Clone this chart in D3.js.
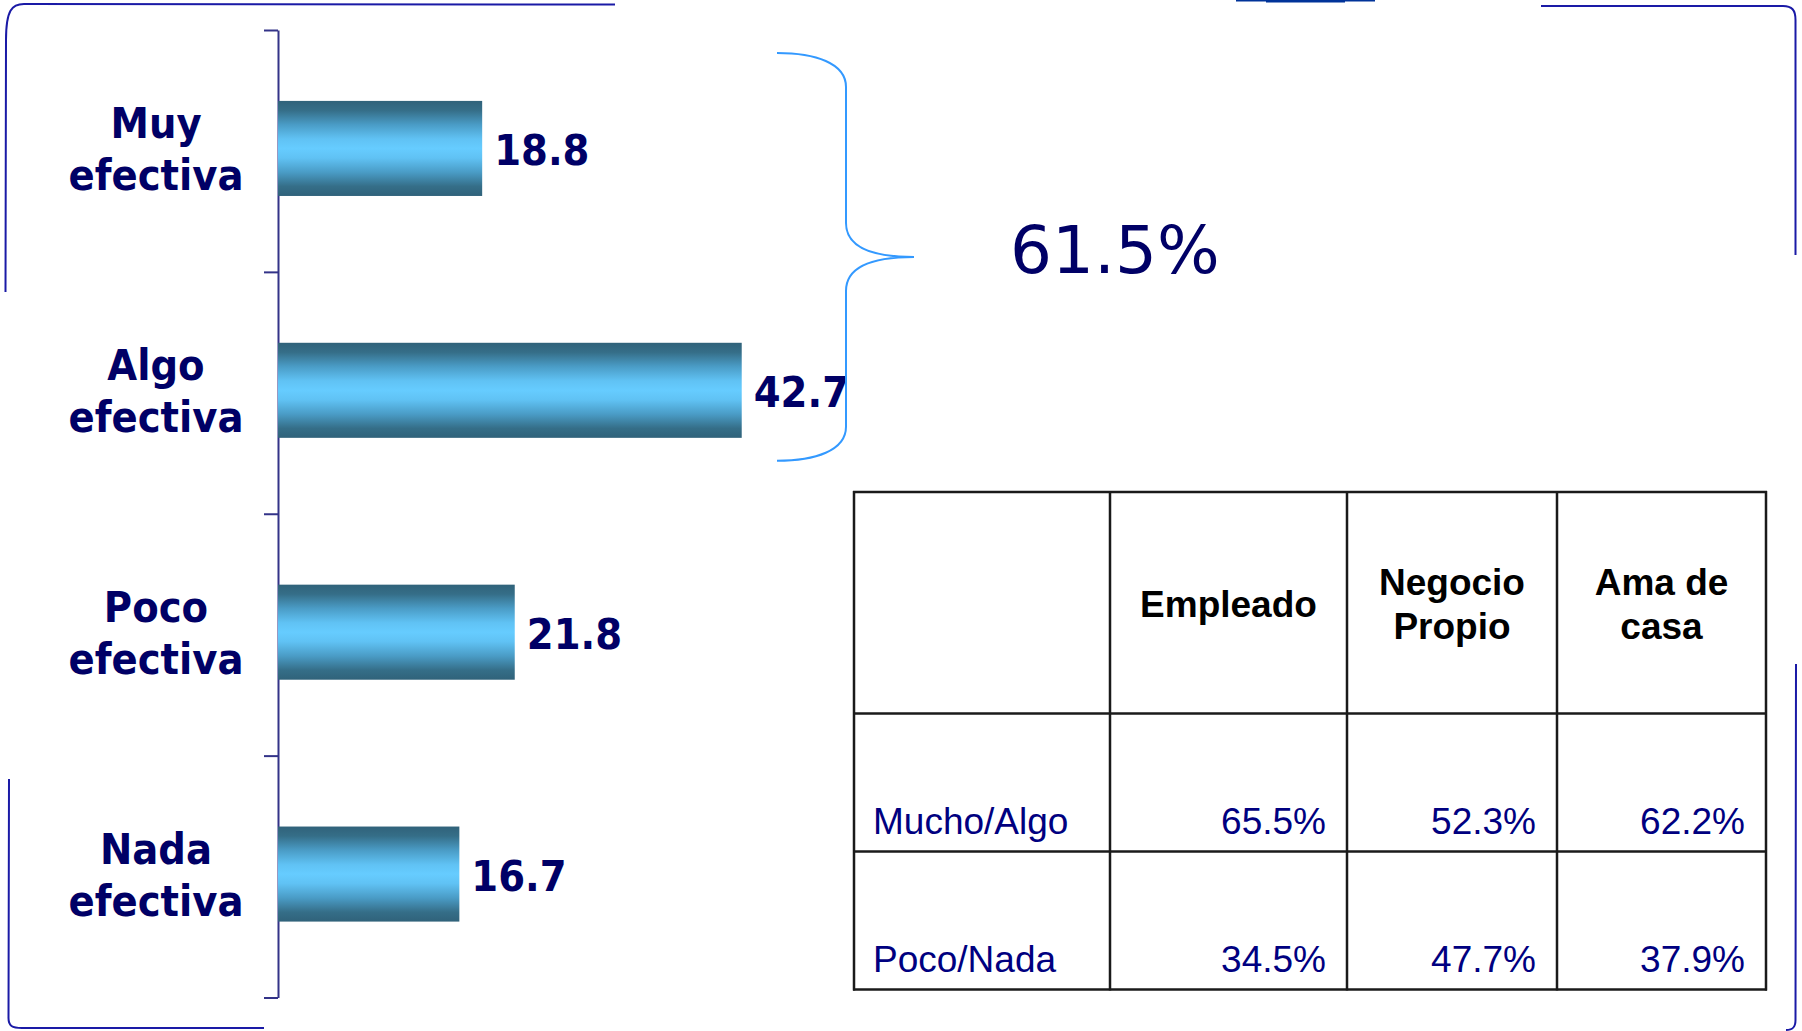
<!DOCTYPE html>
<html>
<head>
<meta charset="utf-8">
<script src="https://cdn.jsdelivr.net/npm/d3@7"></script>
<style>
  body { margin: 0; background: #fff; }
  svg { display: block; }
</style>
</head>
<body>
<svg width="1802" height="1031"></svg>
<script>
'use strict'

// bar chart data
const categories = ['Muy efectiva', 'Algo efectiva', 'Poco efectiva', 'Nada efectiva']
const values = [18.8, 42.7, 21.8, 16.7]
const bracketTotal = '61.5%'

// table data
const tableHeaders = ['Empleado', 'Negocio Propio', 'Ama de casa']
const rowLabels = ['Mucho/Algo', 'Poco/Nada']
const muchoAlgo = [65.5, 52.3, 62.2]
const pocoNada = [34.5, 47.7, 37.9]

const svg = d3.select('body svg')

const navy = '#000066'
const axisColor = '#333388'
const frameColor = '#1a1aa6'

const defs = svg.append('defs')
const grad = defs.append('linearGradient')
  .attr('id', 'barGrad')
  .attr('x1', '0').attr('y1', '0')
  .attr('x2', '0').attr('y2', '1')
const stops = [
  [0, '#30627a'], [0.1, '#356e88'], [0.25, '#4a9cc6'],
  [0.4, '#60c2f4'], [0.5, '#66ccff'], [0.6, '#60c2f4'],
  [0.75, '#4a9cc6'], [0.9, '#356e88'], [1, '#30627a']
]
stops.forEach((s) => {
  grad.append('stop').attr('offset', s[0]).attr('stop-color', s[1])
})

// ---- bar chart ----
const axisX = 278
const yTop = 30
const yBottom = 997.5

const xScale = d3.scaleLinear().domain([0, 50]).range([axisX, axisX + 543])
const yScale = d3.scaleBand()
  .domain(categories)
  .range([yTop - 2.5, yBottom - 2.5])
  .paddingInner(0.607)
  .paddingOuter(0.3035)
const yEdges = d3.scaleLinear().domain([0, categories.length]).range([yTop, yBottom])

const yAxis = d3.axisLeft(yEdges)
  .tickValues(d3.range(categories.length + 1))
  .tickFormat('')
  .tickSizeInner(14)
  .tickSizeOuter(0)
const axisG = svg.append('g').attr('transform', `translate(${axisX}, 0)`).call(yAxis)
axisG.select('path.domain').attr('stroke', axisColor).attr('stroke-width', 2)
axisG.selectAll('g.tick line').attr('stroke', axisColor).attr('stroke-width', 2)

const data = categories.map((c, i) => ({ cat: c, value: values[i] }))

svg.selectAll('rect.bar')
  .data(data)
  .enter()
  .append('rect').classed('bar', true)
  .attr('x', xScale(0))
  .attr('y', (d) => yScale(d.cat))
  .attr('width', (d) => xScale(d.value) - xScale(0))
  .attr('height', yScale.bandwidth())
  .attr('fill', 'url(#barGrad)')

svg.selectAll('text.value')
  .data(data)
  .enter()
  .append('text').classed('value', true)
  .attr('transform', (d) => {
    const cy = yScale(d.cat) + yScale.bandwidth() / 2
    return `translate(${xScale(d.value) + 12}, ${cy + 16.5}) scale(0.92, 1)`
  })
  .style('font-family', 'DejaVu Sans, Verdana, sans-serif')
  .style('font-weight', 'bold')
  .style('font-size', '42px')
  .attr('fill', navy)
  .text((d) => d.value.toFixed(1))

const catG = svg.selectAll('g.cat')
  .data(data)
  .enter()
  .append('g').classed('cat', true)
catG.each(function(d) {
  const g = d3.select(this)
  const cy = yScale(d.cat) + yScale.bandwidth() / 2 + 16
  const lines = d.cat.split(' ')
  lines.forEach((line, i) => {
    g.append('text')
      .attr('transform', `translate(156, ${cy + (i - (lines.length - 1) / 2) * 52}) scale(0.92, 1)`)
      .attr('text-anchor', 'middle')
      .style('font-family', 'DejaVu Sans, Verdana, sans-serif')
      .style('font-weight', 'bold')
      .style('font-size', '42px')
      .attr('fill', navy)
      .text(line)
  })
})

// brace over the first two bars
const braceTop = yEdges(0) + 23
const braceBottom = yEdges(2) - 53
const braceMid = (braceTop + braceBottom) / 2
svg.append('path')
  .attr('d', `M777,${braceTop} C815,${braceTop} 846,${braceTop + 10} 846,${braceTop + 34}
    L846,${braceMid - 34} C846,${braceMid - 12} 868,${braceMid} 914,${braceMid}
    C868,${braceMid} 846,${braceMid + 12} 846,${braceMid + 34}
    L846,${braceBottom - 34} C846,${braceBottom - 10} 815,${braceBottom} 777,${braceBottom}`)
  .attr('fill', 'none')
  .attr('stroke', '#3399ff')
  .attr('stroke-width', 2)

svg.append('text')
  .attr('x', 1010)
  .attr('y', 273)
  .style('font-family', 'DejaVu Sans, Verdana, sans-serif')
  .style('font-size', '66px')
  .attr('fill', navy)
  .text(bracketTotal)

// ---- table ----
const colEdges = [854, 1110, 1347, 1557, 1766]
const rowEdges = [492, 713.5, 851.5, 989.5]
const tableG = svg.append('g')

colEdges.forEach((x) => {
  tableG.append('line')
    .attr('x1', x).attr('x2', x)
    .attr('y1', rowEdges[0] - 1).attr('y2', rowEdges[rowEdges.length - 1] + 1)
    .attr('stroke', '#1a1a1a').attr('stroke-width', 2.5)
})
rowEdges.forEach((y) => {
  tableG.append('line')
    .attr('x1', colEdges[0] - 1).attr('x2', colEdges[colEdges.length - 1] + 1)
    .attr('y1', y).attr('y2', y)
    .attr('stroke', '#1a1a1a').attr('stroke-width', 2.5)
})

const headerMid = (rowEdges[0] + rowEdges[1]) / 2
tableHeaders.forEach((h, i) => {
  const cx = (colEdges[i + 1] + colEdges[i + 2]) / 2
  const words = h.split(' ')
  const lines = words.length === 3 ? [words[0] + ' ' + words[1], words[2]] : words
  lines.forEach((line, j) => {
    tableG.append('text')
      .attr('x', cx)
      .attr('y', headerMid + 14 + (j - (lines.length - 1) / 2) * 44)
      .attr('text-anchor', 'middle')
      .style('font-family', 'Liberation Sans, Arial, sans-serif')
      .style('font-weight', 'bold')
      .style('font-size', '37px')
      .attr('fill', '#000')
      .text(line)
  })
})

const rows = [muchoAlgo, pocoNada]
rows.forEach((row, r) => {
  const baseY = rowEdges[r + 2] - 18
  tableG.append('text')
    .attr('x', colEdges[0] + 19)
    .attr('y', baseY)
    .style('font-family', 'Liberation Sans, Arial, sans-serif')
    .style('font-size', '37px')
    .attr('fill', '#000080')
    .text(rowLabels[r])
  row.forEach((v, c) => {
    tableG.append('text')
      .attr('x', colEdges[c + 2] - 21)
      .attr('y', baseY)
      .attr('text-anchor', 'end')
      .style('font-family', 'Liberation Sans, Arial, sans-serif')
      .style('font-size', '37px')
      .attr('fill', '#000080')
      .text(v.toFixed(1) + '%')
  })
})

// ---- hand drawn frame pieces ----
const frame = svg.append('g')
  .attr('fill', 'none')
  .attr('stroke', frameColor)
  .attr('stroke-width', 2)
frame.append('path').attr('d', 'M615,4.5 L24,4 C12,4 6,10 6,40 L5.5,292')
frame.append('path').attr('d', 'M1541,6 L1783,6 C1792,6 1795.5,10 1795.5,20 L1795.5,255')
frame.append('path').attr('d', 'M9,779 L8.5,1018 C8.5,1026 12,1028 22,1028 L264,1028')
frame.append('path').attr('d', 'M1796,664 L1795.5,1020 C1795.5,1027 1793,1030 1786,1030')
frame.append('path').attr('d', 'M1236,0.5 L1375,0.5').attr('stroke', '#003399')
frame.append('path').attr('d', 'M1266,1 L1345,1').attr('stroke', '#003399').attr('stroke-width', 3)
</script>
</body>
</html>
